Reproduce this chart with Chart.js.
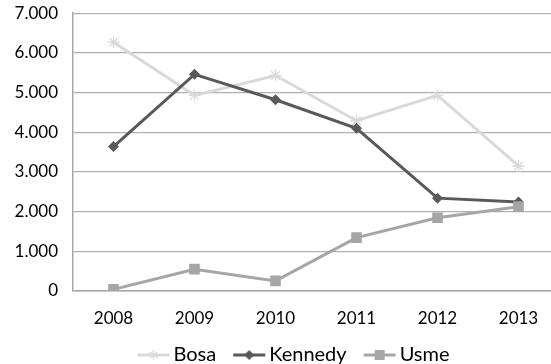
<!DOCTYPE html>
<html>
<head>
<meta charset="utf-8">
<script src="https://cdn.jsdelivr.net/npm/chart.js@4/dist/chart.umd.min.js"></script>
<style>
  html, body { margin: 0; padding: 0; background: #fff; overflow: hidden; width: 551px; height: 364px; }
  #wrap { width: 560px; height: 383px; position: relative; }
</style>
</head>
<body>
<div id="wrap"><canvas id="c"></canvas></div>
<script>
const years = ['2008', '2009', '2010', '2011', '2012', '2013'];
const bosa = [6270, 4930, 5430, 4290, 4930, 3150];
const kennedy = [3640, 5460, 4820, 4100, 2340, 2240];
const usme = [40, 550, 255, 1345, 1845, 2125];

const FONT = 'Lato, "Open Sans", "Liberation Sans", sans-serif';
const COLORS = { bosa: '#d9d9d9', kennedy: '#595959', usme: '#a6a6a6' };

// Legend swatch: a short line segment with the series marker in the middle.
// The visible part sits right of the canvas centre so the label follows closely.
function legendIcon(color, marker) {
  const cv = document.createElement('canvas');
  cv.width = 46; cv.height = 14;
  const g = cv.getContext('2d');
  const x0 = 12, x1 = 44, cx = 28, cy = 7;
  g.strokeStyle = color; g.fillStyle = color;
  g.lineWidth = 3;
  g.beginPath(); g.moveTo(x0, cy); g.lineTo(x1, cy); g.stroke();
  if (marker === 'star') {
    g.lineWidth = 1.2;
    const r = 5;
    g.beginPath();
    g.moveTo(cx, cy - r); g.lineTo(cx, cy + r);
    g.moveTo(cx - r * 0.8, cy - r * 0.6); g.lineTo(cx + r * 0.8, cy + r * 0.6);
    g.moveTo(cx - r * 0.8, cy + r * 0.6); g.lineTo(cx + r * 0.8, cy - r * 0.6);
    g.stroke();
  } else if (marker === 'diamond') {
    const r = 5;
    g.beginPath();
    g.moveTo(cx, cy - r); g.lineTo(cx + r, cy); g.lineTo(cx, cy + r); g.lineTo(cx - r, cy);
    g.closePath(); g.fill();
  } else {
    g.fillRect(cx - 5, cy - 5, 10, 10);
  }
  return cv;
}

const icons = [
  legendIcon(COLORS.bosa, 'star'),
  legendIcon(COLORS.kennedy, 'diamond'),
  legendIcon(COLORS.usme, 'square')
];

// Nudge the legend block right/up after layout
const legendShift = {
  id: 'legendShift',
  afterLayout(chart) {
    const lg = chart.legend;
    if (!lg) return;
    lg.left += 12; lg.right += 12;
    lg.top -= 8; lg.bottom -= 8;
  }
};

new Chart(document.getElementById('c'), {
  type: 'line',
  plugins: [legendShift],
  data: {
    labels: years,
    datasets: [
      {
        label: 'Bosa', data: bosa, order: 2,
        borderColor: COLORS.bosa, backgroundColor: COLORS.bosa, borderWidth: 3,
        pointStyle: 'star', pointRadius: 6, pointBorderWidth: 1.3,
        pointBorderColor: COLORS.bosa, tension: 0
      },
      {
        label: 'Kennedy', data: kennedy, order: 1,
        borderColor: COLORS.kennedy, backgroundColor: COLORS.kennedy, borderWidth: 3,
        pointStyle: 'rectRot', pointRadius: 5.5, pointBorderWidth: 0, tension: 0
      },
      {
        label: 'Usme', data: usme, order: 0,
        borderColor: COLORS.usme, backgroundColor: COLORS.usme, borderWidth: 3,
        pointStyle: 'rect', pointRadius: 7.5, pointBorderWidth: 0, tension: 0
      }
    ]
  },
  options: {
    responsive: true,
    maintainAspectRatio: false,
    animation: false,
    layout: { autoPadding: false, padding: { top: 4.5, right: 1, left: 0, bottom: 0 } },
    plugins: {
      tooltip: { enabled: false },
      legend: {
        position: 'bottom',
        labels: {
          usePointStyle: true,
          pointStyleWidth: 30,
          padding: 13,
          color: '#000',
          font: { family: FONT, size: 20 },
          generateLabels(chart) {
            return chart.data.datasets.map((ds, i) => ({
              text: ds.label,
              pointStyle: icons[i],
              fillStyle: ds.borderColor,
              strokeStyle: ds.borderColor,
              lineWidth: 0,
              hidden: false,
              datasetIndex: i,
              fontColor: '#000'
            }));
          }
        }
      }
    },
    scales: {
      x: {
        offset: true,
        grid: { display: false, drawTicks: false },
        border: { display: true, color: '#a6a6a6', width: 1.5 },
        ticks: { color: '#000', font: { family: FONT, size: 17 }, padding: 17, maxRotation: 0 },
        afterFit(scale) { scale.height = 49; }
      },
      y: {
        min: 0, max: 7000,
        grid: { color: '#b0b0b0', lineWidth: 1.3, drawTicks: true, tickLength: 12, tickColor: 'rgba(0,0,0,0)' },
        border: { display: true, color: '#a6a6a6', width: 1.5 },
        ticks: {
          stepSize: 1000, color: '#000', padding: 3,
          font: { family: FONT, size: 17 },
          callback(v) { return v.toLocaleString('de-DE'); }
        },
        afterFit(scale) { scale.width = 73; }
      }
    }
  }
});
</script>
</body>
</html>
